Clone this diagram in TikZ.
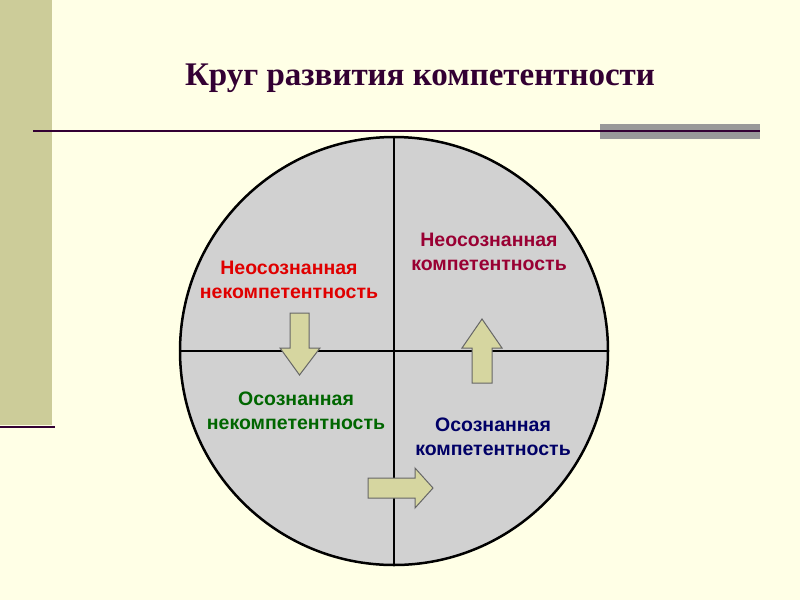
\documentclass[tikz,border=0pt]{standalone}
\usepackage{fontspec}
\setmainfont{Liberation Sans}
\newfontfamily\titlefont{Liberation Serif}
\begin{document}
\begin{tikzpicture}[x=1pt,y=-1pt,
 lbl/.style={font=\fontsize{19.5}{24}\selectfont\bfseries,align=center},
 arr/.style={fill=arrfill,draw=black!60,line width=1pt}]
\definecolor{bg}{HTML}{FFFFE6}
\definecolor{bar}{HTML}{CCCC99}
\definecolor{arrfill}{HTML}{D6D6A0}
\definecolor{tcol}{HTML}{330033}
\fill[bg] (0,0) rectangle (800,600);
\useasboundingbox (0,0) rectangle (800,600);
\fill[bar] (0,0) rectangle (52,425);
\draw[tcol,line width=2.5pt] (0,427) -- (55,427);
\fill[black!40] (600,124) rectangle (760,139);
\draw[tcol,line width=2pt] (33,131) -- (760,131);
\node (title) at (420,78) {\titlefont\fontsize{33}{38}\selectfont\bfseries\color{tcol}Круг развития компетентности};
\node[circle,draw=black,line width=2.5pt,fill=black!18,minimum size=428pt,inner sep=0pt] (c) at (394,351) {};
\draw[line width=2pt] (c.north) -- (c.south);
\draw[line width=2pt] (c.west) -- (c.east);
\draw[arr] (290,313) -- (309,313) -- (309,348) -- (320,348) -- (299.5,375) -- (280,348) -- (290,348) -- cycle;
\draw[arr] (472,383) -- (492,383) -- (492,348) -- (502,348) -- (482,319) -- (462,348) -- (472,348) -- cycle;
\draw[arr] (368,478) -- (415,478) -- (415,468) -- (433,488) -- (415,508) -- (415,498) -- (368,498) -- cycle;
\node[lbl,text={rgb,255:red,224;green,0;blue,0}] (ni) at (289,280) {Неосознанная\\некомпетентность};
\node[lbl,text={rgb,255:red,153;green,0;blue,51}] (nc) at (489,252) {Неосознанная\\компетентность};
\node[lbl,text={rgb,255:red,0;green,102;blue,0}] (oi) at (296,411) {Осознанная\\некомпетентность};
\node[lbl,text={rgb,255:red,0;green,0;blue,102}] (oc) at (493,437) {Осознанная\\компетентность};
\end{tikzpicture}
\end{document}
